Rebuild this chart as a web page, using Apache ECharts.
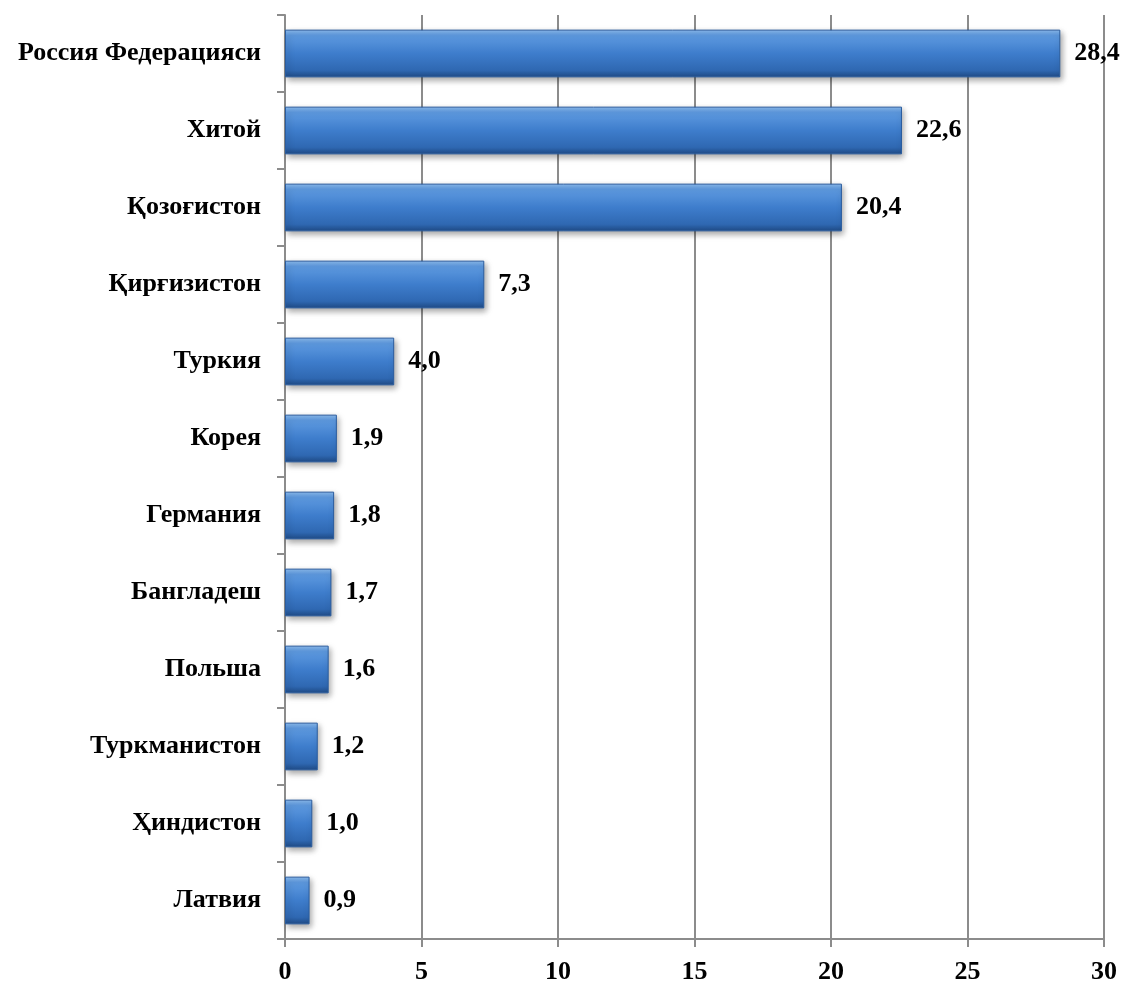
<!DOCTYPE html>
<html>
<head>
<meta charset="utf-8">
<script src="https://cdn.jsdelivr.net/npm/echarts@6/dist/echarts.min.js"></script>
<style>
  html, body { margin: 0; padding: 0; background: #fff; }
  #chart { width: 1126px; height: 981px; }
</style>
</head>
<body>
<div id="chart"></div>
<script>
// categories top to bottom
var countries = ['Россия Федерацияси', 'Хитой', 'Қозоғистон', 'Қирғизистон', 'Туркия', 'Корея',
                 'Германия', 'Бангладеш', 'Польша', 'Туркманистон', 'Ҳиндистон', 'Латвия'];
var shares = [28.4, 22.6, 20.4, 7.3, 4.0, 1.9, 1.8, 1.7, 1.6, 1.2, 1.0, 0.9];
var xTicks = [0, 5, 10, 15, 20, 25, 30];

var font = '"Liberation Serif", "Times New Roman", serif';

var myChart = echarts.init(document.getElementById('chart'));

var option = {
    animation: false,
    grid: { left: 285, right: 22, top: 15, bottom: 42, outerBoundsMode: 'none' },
    xAxis: {
        type: 'value',
        min: xTicks[0],
        max: xTicks[xTicks.length - 1],
        interval: 5,
        axisLine: { show: true, lineStyle: { color: '#8c8c8c', width: 2 } },
        axisTick: { show: true, length: 8, lineStyle: { color: '#8c8c8c', width: 2 } },
        axisLabel: {
            margin: 20,
            color: '#000',
            fontFamily: font,
            fontWeight: 'bold',
            fontSize: 26
        },
        splitLine: { show: true, lineStyle: { color: '#8c8c8c', width: 2 } }
    },
    yAxis: {
        type: 'category',
        inverse: true,
        data: countries,
        axisLine: { show: true, lineStyle: { color: '#8c8c8c', width: 2 } },
        axisTick: { show: true, length: 8, lineStyle: { color: '#8c8c8c', width: 2 } },
        axisLabel: {
            margin: 24,
            color: '#000',
            fontFamily: font,
            fontWeight: 'bold',
            fontSize: 26
        }
    },
    series: [{
        type: 'bar',
        data: shares,
        barCategoryGap: '38%',
        itemStyle: {
            color: new echarts.graphic.LinearGradient(0, 0, 0, 1, [
                { offset: 0, color: '#8dbdf0' },
                { offset: 0.12, color: '#5e9ae0' },
                { offset: 0.5, color: '#3e7dcc' },
                { offset: 0.85, color: '#2f68b2' },
                { offset: 1, color: '#1f4b86' }
            ]),
            borderColor: '#2a5c9e',
            borderWidth: 1,
            shadowColor: 'rgba(0,0,0,0.35)',
            shadowBlur: 6,
            shadowOffsetX: 2,
            shadowOffsetY: 3
        },
        label: {
            show: true,
            position: 'right',
            distance: 14,
            color: '#000',
            fontFamily: font,
            fontWeight: 'bold',
            fontSize: 26,
            formatter: function (p) {
                return p.value.toFixed(1).replace('.', ',');
            }
        }
    }]
};

myChart.setOption(option, true);
</script>
</body>
</html>
